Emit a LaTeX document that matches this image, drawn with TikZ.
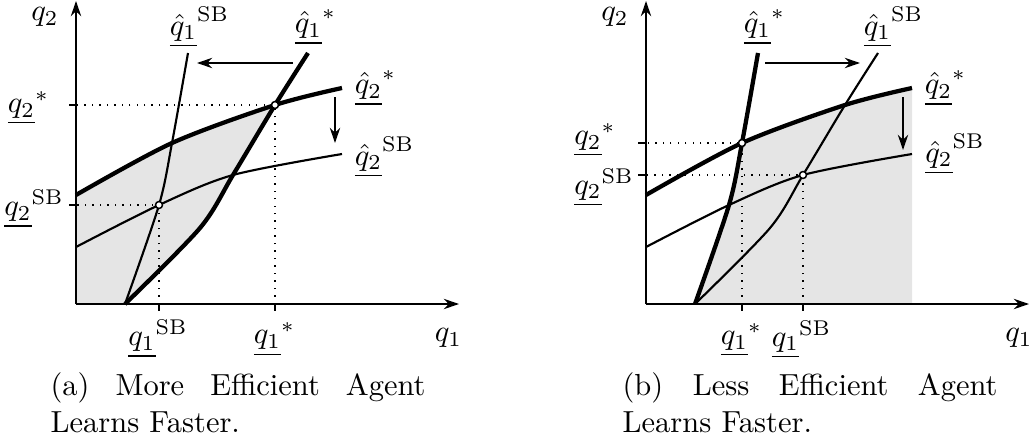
\documentclass[tikz,border=0pt]{standalone}
\usepackage{amsmath,amssymb}
\usepackage{tikz}
\usetikzlibrary{arrows.meta}
\tikzset{>={Stealth[width=3.4pt,length=5pt]}}
\tikzset{
  axisline/.style={line width=0.65pt},
  bestline/.style={line width=1.4pt},
  sbline/.style={line width=0.7pt},
  guide/.style={dotted,line width=0.45pt},
  eqpt/.style={fill=white,draw=black,line width=0.5pt},
  lbl/.style={inner sep=0.5pt},
  capbox/.style={anchor=north west,inner sep=0pt,text width=123pt,align=justify}
}

\begin{document}
\begin{tikzpicture}[x=0.1153cm,y=0.1153cm,line join=round]
\useasboundingbox (-7.6,-14) rectangle (95.6,30.4);

%% (a) the more efficient agent learns faster
\begin{scope}
\begin{scope}
\clip (0,0) -- plot[smooth] coordinates {(0,10.9) (9.6,16.1) (19.9,19.9) (26.6,21.6)} -- (26.6,0) -- cycle;
\clip (0,0) -- plot[smooth] coordinates {(4.9,0) (12.4,7.6) (15.7,12.9) (19.9,19.9) (23.2,25.1)} -- (0,25.1) -- cycle;
\fill[black!10] (0,0) rectangle (27,26);
\end{scope}
\coordinate (oA) at (0,0);
\coordinate (xA) at (38.3,0);
\coordinate (yA) at (0,30.3);
\coordinate (sbA) at (8.3,9.9);          % second best
\coordinate (stA) at (19.9,19.9);        % first best
\draw[guide] (sbA |- oA) -- (sbA) -- (sbA -| oA);
\draw[guide] (stA |- oA) -- (stA) -- (stA -| oA);
\draw[axisline] (sbA |- oA) -- ++(0,-0.7);
\draw[axisline] (stA |- oA) -- ++(0,-0.7);
\draw[axisline] (sbA -| oA) -- ++(-0.7,0);
\draw[axisline] (stA -| oA) -- ++(-0.7,0);
\draw[axisline,->] (oA) -- (xA);
\draw[axisline,->] (oA) -- (yA);
\draw[sbline] plot[smooth] coordinates {(4.9,0) (8.3,9.9) (9.6,16.1) (11.2,25.1)};
\draw[bestline] plot[smooth] coordinates {(4.9,0) (12.4,7.6) (15.7,12.9) (19.9,19.9) (23.2,25.1)};
\draw[bestline] plot[smooth] coordinates {(0,10.9) (9.6,16.1) (19.9,19.9) (26.6,21.6)};
\draw[sbline] plot[smooth] coordinates {(0,5.7) (8.3,9.9) (15.7,12.9) (26.6,15.0)};
\filldraw[eqpt] (sbA) circle (0.35);
\filldraw[eqpt] (stA) circle (0.35);
\coordinate (moveA1) at (21.7,24.1);
\coordinate (moveA2) at (12.1,24.1);
\coordinate (dropA1) at (25.9,20.7);
\coordinate (dropA2) at (25.9,16.1);
\draw[sbline,->] (moveA1) -- (moveA2);
\draw[sbline,->] (dropA1) -- (dropA2);
\node[lbl] (qtwoA) at (-3.1,28.7) {$q_2$};
\node[lbl] (qoneA) at (37.25,-3.4) {$q_1$};
\node[lbl] (qonesbA) at (8.2,-3.5) {$\underline{q_1}^{\mathrm{SB}}$};
\node[lbl] (qonestA) at (19.85,-3.55) {$\underline{q_1}^{*}$};
\node[lbl] (qtwostA) at (-4.75,19.6) {$\underline{q_2}^{*}$};
\node[lbl] (qtwosbA) at (-4.2,9.5) {$\underline{q_2}^{\mathrm{SB}}$};
\node[lbl] (hqonesbA) at (12.35,27.7) {$\underline{\hat{q}_1}^{\mathrm{SB}}$};
\node[lbl] (hqonestA) at (23.95,27.7) {$\underline{\hat{q}_1}^{*}$};
\node[lbl] (hqtwostA) at (29.95,21.6) {$\underline{\hat{q}_2}^{*}$};
\node[lbl] (hqtwosbA) at (30.85,14.7) {$\underline{\hat{q}_2}^{\mathrm{SB}}$};
\node[capbox] (capA) at (-2.6,-6.8) {(a) More Efficient Agent Learns Faster.};
\end{scope}

%% (b) the less efficient agent learns faster
\begin{scope}[shift={(57,0)}]
\begin{scope}
\clip (0,0) -- plot[smooth] coordinates {(0,10.9) (9.6,16.1) (19.9,19.9) (26.6,21.6)} -- (26.6,0) -- cycle;
\clip plot[smooth] coordinates {(4.9,0) (8.3,9.9) (9.6,16.1) (11.2,25.1)} -- (30,25.1) -- (30,0) -- cycle;
\fill[black!10] (0,0) rectangle (27,26);
\end{scope}
\coordinate (oB) at (0,0);
\coordinate (xB) at (38.3,0);
\coordinate (yB) at (0,30.3);
\coordinate (sbB) at (15.7,12.9);        % second best
\coordinate (stB) at (9.6,16.1);         % first best
\draw[guide] (sbB |- oB) -- (sbB) -- (sbB -| oB);
\draw[guide] (stB |- oB) -- (stB) -- (stB -| oB);
\draw[axisline] (sbB |- oB) -- ++(0,-0.7);
\draw[axisline] (stB |- oB) -- ++(0,-0.7);
\draw[axisline] (sbB -| oB) -- ++(-0.8,0);
\draw[axisline] (stB -| oB) -- ++(-0.8,0);
\draw[axisline,->] (oB) -- (xB);
\draw[axisline,->] (oB) -- (yB);
\draw[bestline] plot[smooth] coordinates {(4.9,0) (8.3,9.9) (9.6,16.1) (11.2,25.1)};
\draw[sbline] plot[smooth] coordinates {(4.9,0) (12.4,7.6) (15.7,12.9) (19.9,19.9) (23.2,25.1)};
\draw[bestline] plot[smooth] coordinates {(0,10.9) (9.6,16.1) (19.9,19.9) (26.6,21.6)};
\draw[sbline] plot[smooth] coordinates {(0,5.7) (8.3,9.9) (15.7,12.9) (26.6,15.0)};
\filldraw[eqpt] (sbB) circle (0.35);
\filldraw[eqpt] (stB) circle (0.35);
\coordinate (moveB1) at (11.9,24.1);
\coordinate (moveB2) at (21.4,24.1);
\coordinate (dropB1) at (25.7,20.7);
\coordinate (dropB2) at (25.7,15.4);
\draw[sbline,->] (moveB1) -- (moveB2);
\draw[sbline,->] (dropB1) -- (dropB2);
\node[lbl] (qtwoB) at (-3.1,28.7) {$q_2$};
\node[lbl] (qoneB) at (37.3,-3.4) {$q_1$};
\node[lbl] (qonestB) at (9.55,-3.6) {$\underline{q_1}^{*}$};
\node[lbl] (qonesbB) at (15.55,-3.55) {$\underline{q_1}^{\mathrm{SB}}$};
\node[lbl] (qtwostB) at (-5.1,16.4) {$\underline{q_2}^{*}$};
\node[lbl] (qtwosbB) at (-4.2,11.65) {$\underline{q_2}^{\mathrm{SB}}$};
\node[lbl] (hqonestB) at (11.85,27.7) {$\underline{\hat{q}_1}^{*}$};
\node[lbl] (hqonesbB) at (24.75,27.7) {$\underline{\hat{q}_1}^{\mathrm{SB}}$};
\node[lbl] (hqtwostB) at (29.95,21.6) {$\underline{\hat{q}_2}^{*}$};
\node[lbl] (hqtwosbB) at (30.9,15.0) {$\underline{\hat{q}_2}^{\mathrm{SB}}$};
\node[capbox] (capB) at (-2.4,-6.8) {(b) Less Efficient Agent Learns Faster.};
\end{scope}
\end{tikzpicture}
\end{document}
